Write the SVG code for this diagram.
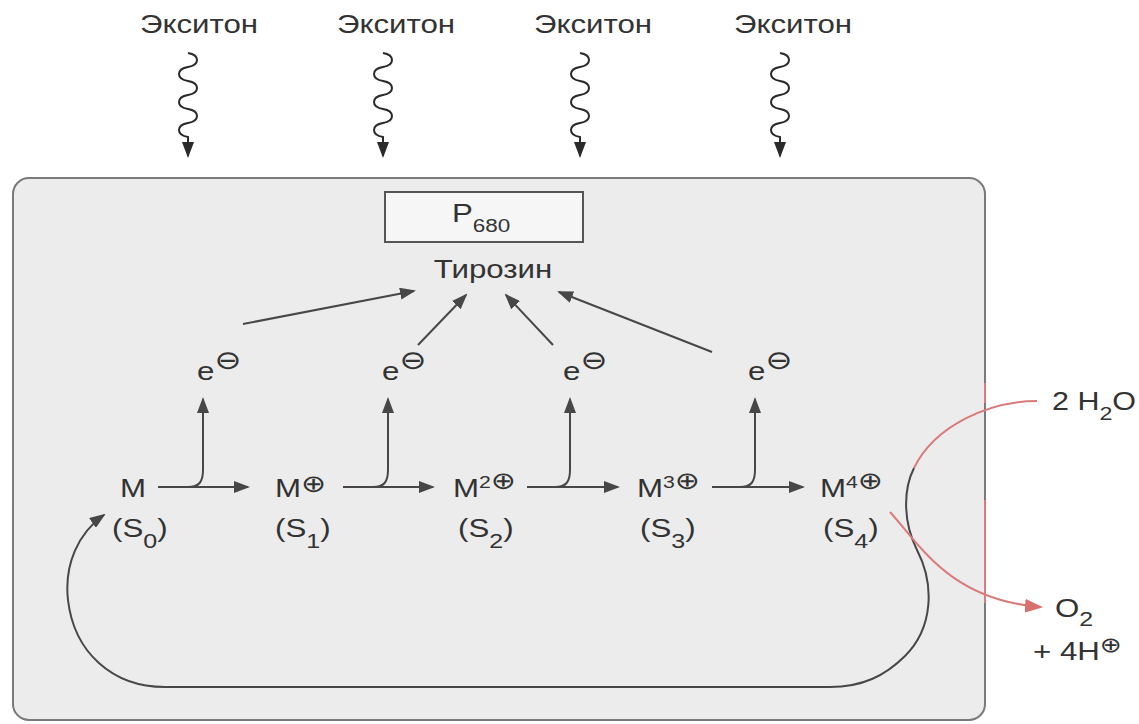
<svg xmlns="http://www.w3.org/2000/svg" width="1139" height="724" viewBox="0 0 1139 724">
<style>
.t{font-family:"Liberation Sans","DejaVu Sans",sans-serif;font-size:25px;fill:#333}
.sym{font-family:"DejaVu Sans",sans-serif}
.ln{fill:none;stroke:#474747;stroke-width:2}
.rd{fill:none;stroke:#d97b7b;stroke-width:2}
</style>
<defs>
<marker id="ah" viewBox="0 0 16 12" refX="14" refY="6" markerWidth="16" markerHeight="12" markerUnits="userSpaceOnUse" orient="auto">
<path d="M0,0 L16,6 L0,12 z" fill="#474747"/>
</marker>
<marker id="ahw" viewBox="0 0 16 12" refX="14" refY="6" markerWidth="16" markerHeight="12" markerUnits="userSpaceOnUse" orient="auto">
<path d="M0,0 L16,6 L0,12 z" fill="#2a2a2a"/>
</marker>
<marker id="ahr" viewBox="0 0 18 14" refX="16" refY="7" markerWidth="18" markerHeight="14" markerUnits="userSpaceOnUse" orient="auto">
<path d="M0,0 L18,7 L0,14 z" fill="#d97070"/>
</marker>
<path id="wave" d="M0,53 c12,2 12,12 0,14 s-12,12 0,14 s12,12 0,14 s-12,12 0,14 s12,12 0,14 s-12,12 0,14 L0,156" fill="none" stroke="#2a2a2a" stroke-width="2" marker-end="url(#ahw)"/>
</defs>

<!-- reaction compartment -->
<rect id="compartment" x="13" y="178" width="972" height="542" rx="16" fill="#ececec" stroke="#7a7a7a" stroke-width="2"/>
<line x1="985" y1="383" x2="985" y2="403" stroke="#e07a7a" stroke-width="2"/>
<line x1="985" y1="500" x2="985" y2="603" stroke="#e07a7a" stroke-width="2"/>

<!-- incoming excitons -->
<g id="exciton1">
<text class="t" fill="#222" text-anchor="middle" transform="translate(199,33) scale(1.25,1)">Экситон</text>
<use href="#wave" x="188"/>
</g>
<g id="exciton2">
<text class="t" text-anchor="middle" transform="translate(396,33) scale(1.25,1)">Экситон</text>
<use href="#wave" x="383"/>
</g>
<g id="exciton3">
<text class="t" text-anchor="middle" transform="translate(593,33) scale(1.25,1)">Экситон</text>
<use href="#wave" x="580"/>
</g>
<g id="exciton4">
<text class="t" text-anchor="middle" transform="translate(793,33) scale(1.25,1)">Экситон</text>
<use href="#wave" x="780"/>
</g>

<!-- reaction centre -->
<g id="p680">
<rect x="385" y="192" width="198" height="50" fill="#f6f6f6" stroke="#555" stroke-width="2"/>
<text class="t" font-size="24" transform="translate(452,222) scale(1.25,1)">P<tspan font-size="18" dy="10">680</tspan></text>
</g>
<g id="tyrosine">
<text class="t" text-anchor="middle" transform="translate(493,278) scale(1.25,1)">Тирозин</text>
</g>

<!-- released electrons -->
<g id="e1"><text class="t" font-size="24" transform="translate(197,380) scale(1.25,1)">e<tspan class="sym" font-size="26" dy="-11">⊖</tspan></text></g>
<g id="e2"><text class="t" font-size="24" transform="translate(382,380) scale(1.25,1)">e<tspan class="sym" font-size="26" dy="-11">⊖</tspan></text></g>
<g id="e3"><text class="t" font-size="24" transform="translate(563,380) scale(1.25,1)">e<tspan class="sym" font-size="26" dy="-11">⊖</tspan></text></g>
<g id="e4"><text class="t" font-size="24" transform="translate(748,380) scale(1.25,1)">e<tspan class="sym" font-size="26" dy="-11">⊖</tspan></text></g>

<!-- S-states of the manganese cluster -->
<g id="s0">
<text class="t" transform="translate(120,497) scale(1.25,1)">M</text>
<text class="t" font-size="24" transform="translate(112,537) scale(1.25,1)">(S<tspan font-size="20" dy="11">0</tspan><tspan dy="-11">)</tspan></text>
</g>
<g id="s1">
<text class="t" transform="translate(275,497) scale(1.25,1)">M<tspan class="sym" font-size="24" dy="-5">⊕</tspan></text>
<text class="t" font-size="24" transform="translate(275,537) scale(1.25,1)">(S<tspan font-size="20" dy="11">1</tspan><tspan dy="-11">)</tspan></text>
</g>
<g id="s2">
<text class="t" transform="translate(453,497) scale(1.25,1)">M<tspan font-size="17" dy="-9">2</tspan><tspan class="sym" font-size="24" dy="1">⊕</tspan></text>
<text class="t" font-size="24" transform="translate(458,537) scale(1.25,1)">(S<tspan font-size="20" dy="11">2</tspan><tspan dy="-11">)</tspan></text>
</g>
<g id="s3">
<text class="t" transform="translate(637,497) scale(1.25,1)">M<tspan font-size="17" dy="-9">3</tspan><tspan class="sym" font-size="24" dy="1">⊕</tspan></text>
<text class="t" font-size="24" transform="translate(640,537) scale(1.25,1)">(S<tspan font-size="20" dy="11">3</tspan><tspan dy="-11">)</tspan></text>
</g>
<g id="s4">
<text class="t" transform="translate(820,497) scale(1.25,1)">M<tspan font-size="17" dy="-9">4</tspan><tspan class="sym" font-size="24" dy="1">⊕</tspan></text>
<text class="t" font-size="24" transform="translate(823,537) scale(1.25,1)">(S<tspan font-size="20" dy="11">4</tspan><tspan dy="-11">)</tspan></text>
</g>

<!-- substrates and products -->
<g id="water">
<text class="t" font-size="24" transform="translate(1052,410) scale(1.22,1)">2 H<tspan font-size="19" dy="10">2</tspan><tspan dy="-10">O</tspan></text>
</g>
<g id="oxygen">
<text class="t" font-size="24" transform="translate(1055,617) scale(1.25,1)">O<tspan font-size="20" dy="9">2</tspan></text>
<text class="t" font-size="21" transform="translate(1033,660) scale(1.25,1)">+ 4H<tspan class="sym" font-size="21" dy="-8">⊕</tspan></text>
</g>

<!-- connectors -->
<g id="connectors">
<!-- state transitions -->
<path class="ln" d="M158,487 L248,487" marker-end="url(#ah)"/>
<path class="ln" d="M343,487 L433,487" marker-end="url(#ah)"/>
<path class="ln" d="M527,487 L618,487" marker-end="url(#ah)"/>
<path class="ln" d="M712,487 L803,487" marker-end="url(#ah)"/>
<!-- electron release branches -->
<path class="ln" d="M188,487 C199,487 203,482 203,470 L203,399" marker-end="url(#ah)"/>
<path class="ln" d="M373,487 C384,487 388,482 388,470 L388,399" marker-end="url(#ah)"/>
<path class="ln" d="M555,487 C566,487 570,482 570,470 L570,399" marker-end="url(#ah)"/>
<path class="ln" d="M740,487 C751,487 755,482 755,470 L755,399" marker-end="url(#ah)"/>
<!-- electrons to tyrosine -->
<path class="ln" d="M243,324 L414,291" marker-end="url(#ah)"/>
<path class="ln" d="M418,345 L466,295" marker-end="url(#ah)"/>
<path class="ln" d="M553,345 L506,295" marker-end="url(#ah)"/>
<path class="ln" d="M712,352 L559,292" marker-end="url(#ah)"/>
<!-- water uptake and return to S0 -->
<path class="rd" d="M1037,401 C990,401 935,425 914,468"/>
<path class="ln" d="M914,468 C903,490 903,522 917,550 C935,585 933,628 905,656 C885,676 862,687 830,687 L165,687 C112,687 74,652 68,600 C64,565 78,533 104,515" marker-end="url(#ah)"/>
<!-- oxygen release -->
<path class="rd" d="M890,512 C920,545 950,600 1041,607" marker-end="url(#ahr)"/>
</g>
</svg>
